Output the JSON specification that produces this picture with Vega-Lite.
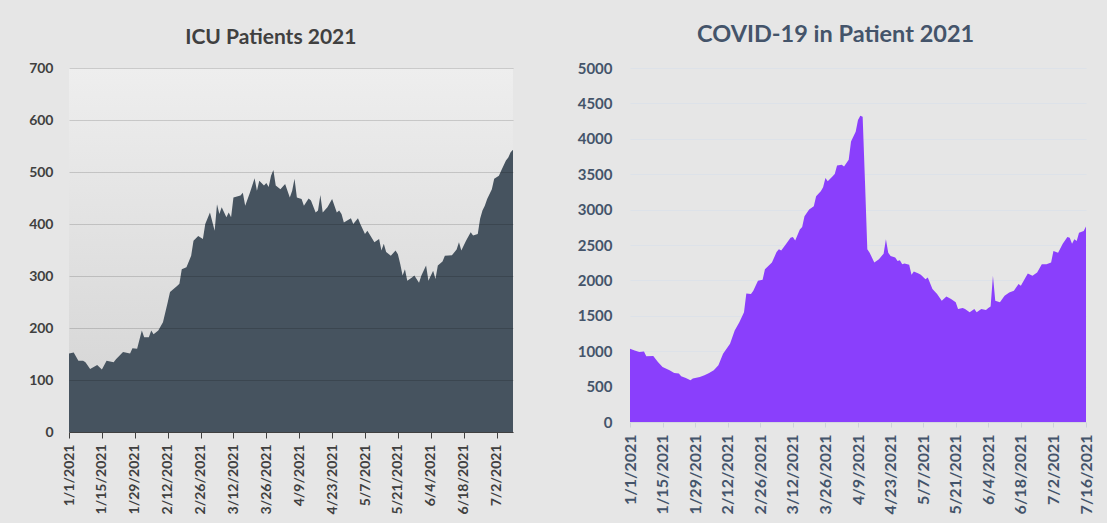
{
  "$schema": "https://vega.github.io/schema/vega-lite/v6.json",
  "background": "#e6e6e6",
  "padding": {"left": 28, "top": 22, "right": 20, "bottom": 10},
  "spacing": 64,
  "config": {"font": "Lato", "view": {"stroke": null}},
  "hconcat": [
    {
      "title": {"text": "ICU Patients 2021", "fontSize": 21, "font": "Lato", "fontWeight": "bold", "color": "#404040", "offset": 13, "frame": "bounds", "anchor": "middle"},
      "width": 444,
      "height": 364,
      "view": {"fill": {"gradient": "linear", "x1": 0, "y1": 0, "x2": 0, "y2": 1, "stops": [{"offset": 0, "color": "#eeeeee"}, {"offset": 1, "color": "#d3d3d3"}]}, "stroke": null},
      "data": {
        "format": {"parse": {"d": "date:'%Y-%m-%d'"}},
        "values": [
          {"d": "2021-01-01", "v": 151}, {"d": "2021-01-03", "v": 153}, {"d": "2021-01-05", "v": 137}, {"d": "2021-01-07", "v": 137},
          {"d": "2021-01-08", "v": 134}, {"d": "2021-01-10", "v": 121}, {"d": "2021-01-13", "v": 129}, {"d": "2021-01-15", "v": 120},
          {"d": "2021-01-17", "v": 137}, {"d": "2021-01-20", "v": 134}, {"d": "2021-01-21", "v": 140}, {"d": "2021-01-24", "v": 154},
          {"d": "2021-01-27", "v": 151}, {"d": "2021-01-28", "v": 161}, {"d": "2021-01-30", "v": 160}, {"d": "2021-02-01", "v": 195},
          {"d": "2021-02-02", "v": 182}, {"d": "2021-02-04", "v": 182}, {"d": "2021-02-05", "v": 195}, {"d": "2021-02-06", "v": 188},
          {"d": "2021-02-08", "v": 195}, {"d": "2021-02-10", "v": 211}, {"d": "2021-02-12", "v": 249}, {"d": "2021-02-13", "v": 269},
          {"d": "2021-02-16", "v": 281}, {"d": "2021-02-17", "v": 285}, {"d": "2021-02-18", "v": 313}, {"d": "2021-02-20", "v": 317},
          {"d": "2021-02-22", "v": 339}, {"d": "2021-02-23", "v": 368}, {"d": "2021-02-25", "v": 377}, {"d": "2021-02-27", "v": 371},
          {"d": "2021-02-28", "v": 400}, {"d": "2021-03-02", "v": 422}, {"d": "2021-03-04", "v": 387}, {"d": "2021-03-05", "v": 438},
          {"d": "2021-03-06", "v": 419}, {"d": "2021-03-07", "v": 432}, {"d": "2021-03-09", "v": 413}, {"d": "2021-03-10", "v": 422},
          {"d": "2021-03-11", "v": 413}, {"d": "2021-03-12", "v": 451}, {"d": "2021-03-15", "v": 455}, {"d": "2021-03-16", "v": 460},
          {"d": "2021-03-17", "v": 435}, {"d": "2021-03-19", "v": 460}, {"d": "2021-03-21", "v": 488}, {"d": "2021-03-22", "v": 464},
          {"d": "2021-03-23", "v": 483}, {"d": "2021-03-25", "v": 474}, {"d": "2021-03-26", "v": 479}, {"d": "2021-03-27", "v": 471},
          {"d": "2021-03-28", "v": 493}, {"d": "2021-03-29", "v": 504}, {"d": "2021-03-30", "v": 474}, {"d": "2021-04-01", "v": 467},
          {"d": "2021-04-03", "v": 477}, {"d": "2021-04-05", "v": 451}, {"d": "2021-04-06", "v": 464}, {"d": "2021-04-07", "v": 487},
          {"d": "2021-04-08", "v": 451}, {"d": "2021-04-10", "v": 448}, {"d": "2021-04-11", "v": 435}, {"d": "2021-04-13", "v": 449},
          {"d": "2021-04-14", "v": 445}, {"d": "2021-04-16", "v": 422}, {"d": "2021-04-17", "v": 426}, {"d": "2021-04-18", "v": 456},
          {"d": "2021-04-19", "v": 422}, {"d": "2021-04-21", "v": 432}, {"d": "2021-04-23", "v": 448}, {"d": "2021-04-25", "v": 422},
          {"d": "2021-04-26", "v": 426}, {"d": "2021-04-27", "v": 419}, {"d": "2021-04-28", "v": 403}, {"d": "2021-05-01", "v": 411},
          {"d": "2021-05-02", "v": 400}, {"d": "2021-05-04", "v": 411}, {"d": "2021-05-05", "v": 400}, {"d": "2021-05-07", "v": 381},
          {"d": "2021-05-08", "v": 387}, {"d": "2021-05-09", "v": 380}, {"d": "2021-05-11", "v": 365}, {"d": "2021-05-13", "v": 371},
          {"d": "2021-05-14", "v": 349}, {"d": "2021-05-15", "v": 362}, {"d": "2021-05-16", "v": 346}, {"d": "2021-05-18", "v": 339},
          {"d": "2021-05-20", "v": 349}, {"d": "2021-05-21", "v": 342}, {"d": "2021-05-22", "v": 323}, {"d": "2021-05-23", "v": 301},
          {"d": "2021-05-24", "v": 313}, {"d": "2021-05-25", "v": 291}, {"d": "2021-05-27", "v": 297}, {"d": "2021-05-28", "v": 301},
          {"d": "2021-05-30", "v": 287}, {"d": "2021-05-31", "v": 301}, {"d": "2021-06-02", "v": 320}, {"d": "2021-06-03", "v": 291},
          {"d": "2021-06-05", "v": 310}, {"d": "2021-06-06", "v": 294}, {"d": "2021-06-07", "v": 320}, {"d": "2021-06-09", "v": 328},
          {"d": "2021-06-10", "v": 339}, {"d": "2021-06-13", "v": 340}, {"d": "2021-06-15", "v": 351}, {"d": "2021-06-16", "v": 365},
          {"d": "2021-06-17", "v": 349}, {"d": "2021-06-19", "v": 368}, {"d": "2021-06-21", "v": 384}, {"d": "2021-06-22", "v": 378},
          {"d": "2021-06-24", "v": 381}, {"d": "2021-06-25", "v": 410}, {"d": "2021-06-26", "v": 426}, {"d": "2021-06-27", "v": 435},
          {"d": "2021-06-28", "v": 448}, {"d": "2021-06-30", "v": 467}, {"d": "2021-07-01", "v": 487}, {"d": "2021-07-03", "v": 493},
          {"d": "2021-07-04", "v": 503}, {"d": "2021-07-06", "v": 522}, {"d": "2021-07-07", "v": 528}, {"d": "2021-07-08", "v": 538},
          {"d": "2021-07-09", "v": 543}
        ]
      },
      "mark": {"type": "area", "color": "#46535f", "interpolate": "linear"},
      "encoding": {
        "x": {
          "field": "d", "type": "temporal",
          "scale": {"domain": [{"year": 2021, "month": 1, "date": 1}, {"year": 2021, "month": 7, "date": 9}]},
          "axis": {
            "title": null, "grid": false, "format": "%-m/%-d/%Y", "labelAngle": -90,
            "values": [{"year": 2021, "month": 1, "date": 1}, {"year": 2021, "month": 1, "date": 15}, {"year": 2021, "month": 1, "date": 29}, {"year": 2021, "month": 2, "date": 12}, {"year": 2021, "month": 2, "date": 26}, {"year": 2021, "month": 3, "date": 12}, {"year": 2021, "month": 3, "date": 26}, {"year": 2021, "month": 4, "date": 9}, {"year": 2021, "month": 4, "date": 23}, {"year": 2021, "month": 5, "date": 7}, {"year": 2021, "month": 5, "date": 21}, {"year": 2021, "month": 6, "date": 4}, {"year": 2021, "month": 6, "date": 18}, {"year": 2021, "month": 7, "date": 2}],
            "labelFont": "Lato", "labelFontSize": 14, "labelFontWeight": "bold", "labelColor": "#404040",
            "tickSize": 6, "tickColor": "#404040", "domainColor": "#404040", "labelPadding": 6,
            "labelOverlap": false, "labelFlush": false, "labelBound": false, "zindex": 1
          }
        },
        "y": {
          "field": "v", "type": "quantitative",
          "scale": {"domain": [0, 700]},
          "axis": {
            "title": null, "values": [0, 100, 200, 300, 400, 500, 600, 700],
            "labelFont": "Lato", "labelFontSize": 14, "labelFontWeight": "bold", "labelColor": "#404040",
            "ticks": false, "tickSize": 0, "domain": false, "labelPadding": 16,
            "grid": true, "gridColor": "#000000", "gridOpacity": 0.15, "zindex": 1
          }
        }
      }
    },
    {
      "title": {"text": "COVID-19 in Patient 2021", "fontSize": 23.5, "font": "Lato", "fontWeight": "bold", "color": "#44546a", "offset": 15, "frame": "bounds", "anchor": "middle"},
      "width": 456,
      "height": 354,
      "data": {
        "format": {"parse": {"d": "date:'%Y-%m-%d'"}},
        "values": [
          {"d": "2021-01-01", "v": 1035}, {"d": "2021-01-03", "v": 1011}, {"d": "2021-01-05", "v": 987}, {"d": "2021-01-07", "v": 995},
          {"d": "2021-01-08", "v": 927}, {"d": "2021-01-11", "v": 932}, {"d": "2021-01-13", "v": 847}, {"d": "2021-01-15", "v": 777},
          {"d": "2021-01-18", "v": 730}, {"d": "2021-01-20", "v": 693}, {"d": "2021-01-22", "v": 684}, {"d": "2021-01-23", "v": 646},
          {"d": "2021-01-25", "v": 622}, {"d": "2021-01-27", "v": 590}, {"d": "2021-01-28", "v": 613}, {"d": "2021-01-31", "v": 637},
          {"d": "2021-02-02", "v": 660}, {"d": "2021-02-04", "v": 693}, {"d": "2021-02-06", "v": 730}, {"d": "2021-02-08", "v": 800},
          {"d": "2021-02-10", "v": 965}, {"d": "2021-02-13", "v": 1105}, {"d": "2021-02-15", "v": 1292}, {"d": "2021-02-17", "v": 1409},
          {"d": "2021-02-19", "v": 1549}, {"d": "2021-02-20", "v": 1816}, {"d": "2021-02-22", "v": 1807}, {"d": "2021-02-23", "v": 1854},
          {"d": "2021-02-25", "v": 1994}, {"d": "2021-02-27", "v": 2008}, {"d": "2021-02-28", "v": 2158}, {"d": "2021-03-03", "v": 2252},
          {"d": "2021-03-05", "v": 2400}, {"d": "2021-03-06", "v": 2439}, {"d": "2021-03-07", "v": 2424}, {"d": "2021-03-09", "v": 2510},
          {"d": "2021-03-11", "v": 2603}, {"d": "2021-03-12", "v": 2612}, {"d": "2021-03-13", "v": 2565}, {"d": "2021-03-15", "v": 2720},
          {"d": "2021-03-16", "v": 2753}, {"d": "2021-03-17", "v": 2907}, {"d": "2021-03-19", "v": 3001}, {"d": "2021-03-21", "v": 3048},
          {"d": "2021-03-22", "v": 3188}, {"d": "2021-03-24", "v": 3258}, {"d": "2021-03-25", "v": 3315}, {"d": "2021-03-26", "v": 3445},
          {"d": "2021-03-27", "v": 3399}, {"d": "2021-03-29", "v": 3469}, {"d": "2021-03-30", "v": 3502}, {"d": "2021-03-31", "v": 3624},
          {"d": "2021-04-02", "v": 3633}, {"d": "2021-04-03", "v": 3610}, {"d": "2021-04-05", "v": 3703}, {"d": "2021-04-06", "v": 3961},
          {"d": "2021-04-08", "v": 4101}, {"d": "2021-04-09", "v": 4265}, {"d": "2021-04-10", "v": 4326}, {"d": "2021-04-11", "v": 4312},
          {"d": "2021-04-12", "v": 3400}, {"d": "2021-04-13", "v": 2439}, {"d": "2021-04-14", "v": 2392}, {"d": "2021-04-16", "v": 2252},
          {"d": "2021-04-18", "v": 2299}, {"d": "2021-04-20", "v": 2378}, {"d": "2021-04-21", "v": 2580}, {"d": "2021-04-22", "v": 2392},
          {"d": "2021-04-23", "v": 2346}, {"d": "2021-04-25", "v": 2322}, {"d": "2021-04-26", "v": 2275}, {"d": "2021-04-27", "v": 2285},
          {"d": "2021-04-28", "v": 2229}, {"d": "2021-04-29", "v": 2238}, {"d": "2021-05-01", "v": 2220}, {"d": "2021-05-02", "v": 2079},
          {"d": "2021-05-03", "v": 2126}, {"d": "2021-05-05", "v": 2098}, {"d": "2021-05-06", "v": 2079}, {"d": "2021-05-08", "v": 2018},
          {"d": "2021-05-09", "v": 2041}, {"d": "2021-05-11", "v": 1880}, {"d": "2021-05-13", "v": 1807}, {"d": "2021-05-15", "v": 1713},
          {"d": "2021-05-17", "v": 1774}, {"d": "2021-05-19", "v": 1736}, {"d": "2021-05-21", "v": 1690}, {"d": "2021-05-22", "v": 1597},
          {"d": "2021-05-24", "v": 1611}, {"d": "2021-05-25", "v": 1597}, {"d": "2021-05-27", "v": 1549}, {"d": "2021-05-29", "v": 1597},
          {"d": "2021-05-30", "v": 1549}, {"d": "2021-06-01", "v": 1597}, {"d": "2021-06-03", "v": 1582}, {"d": "2021-06-04", "v": 1611},
          {"d": "2021-06-05", "v": 1630}, {"d": "2021-06-06", "v": 2065}, {"d": "2021-06-07", "v": 1713}, {"d": "2021-06-09", "v": 1690},
          {"d": "2021-06-11", "v": 1783}, {"d": "2021-06-13", "v": 1830}, {"d": "2021-06-15", "v": 1854}, {"d": "2021-06-17", "v": 1948},
          {"d": "2021-06-18", "v": 1924}, {"d": "2021-06-20", "v": 2041}, {"d": "2021-06-21", "v": 2098}, {"d": "2021-06-23", "v": 2065},
          {"d": "2021-06-25", "v": 2111}, {"d": "2021-06-27", "v": 2229}, {"d": "2021-06-29", "v": 2229}, {"d": "2021-07-01", "v": 2252},
          {"d": "2021-07-02", "v": 2416}, {"d": "2021-07-04", "v": 2392}, {"d": "2021-07-06", "v": 2519}, {"d": "2021-07-08", "v": 2612},
          {"d": "2021-07-09", "v": 2603}, {"d": "2021-07-10", "v": 2519}, {"d": "2021-07-11", "v": 2580}, {"d": "2021-07-12", "v": 2556},
          {"d": "2021-07-13", "v": 2673}, {"d": "2021-07-15", "v": 2697}, {"d": "2021-07-16", "v": 2760}
        ]
      },
      "mark": {"type": "area", "color": "#8a3ffc", "interpolate": "linear"},
      "encoding": {
        "x": {
          "field": "d", "type": "temporal",
          "scale": {"domain": [{"year": 2021, "month": 1, "date": 1}, {"year": 2021, "month": 7, "date": 16}]},
          "axis": {
            "title": null, "grid": false, "format": "%-m/%-d/%Y", "labelAngle": -90,
            "values": [{"year": 2021, "month": 1, "date": 1}, {"year": 2021, "month": 1, "date": 15}, {"year": 2021, "month": 1, "date": 29}, {"year": 2021, "month": 2, "date": 12}, {"year": 2021, "month": 2, "date": 26}, {"year": 2021, "month": 3, "date": 12}, {"year": 2021, "month": 3, "date": 26}, {"year": 2021, "month": 4, "date": 9}, {"year": 2021, "month": 4, "date": 23}, {"year": 2021, "month": 5, "date": 7}, {"year": 2021, "month": 5, "date": 21}, {"year": 2021, "month": 6, "date": 4}, {"year": 2021, "month": 6, "date": 18}, {"year": 2021, "month": 7, "date": 2}, {"year": 2021, "month": 7, "date": 16}],
            "labelFont": "Lato", "labelFontSize": 16, "labelFontWeight": "bold", "labelColor": "#44546a",
            "tickSize": 5, "tickColor": "#cdd2d9", "domainColor": "#d3d8de", "labelPadding": 7,
            "labelOverlap": false, "labelFlush": false, "labelBound": false
          }
        },
        "y": {
          "field": "v", "type": "quantitative",
          "scale": {"domain": [0, 5000]},
          "axis": {
            "title": null, "values": [0, 500, 1000, 1500, 2000, 2500, 3000, 3500, 4000, 4500, 5000], "format": "d",
            "labelFont": "Lato", "labelFontSize": 15, "labelFontWeight": "bold", "labelColor": "#44546a",
            "ticks": false, "tickSize": 0, "domain": false, "labelPadding": 18,
            "grid": true, "gridColor": "#dde2e9"
          }
        }
      }
    }
  ]
}
